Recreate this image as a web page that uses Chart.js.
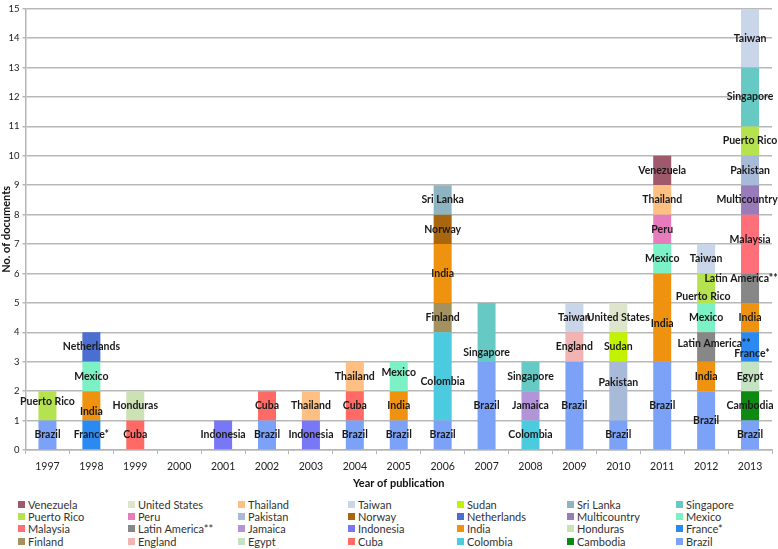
<!DOCTYPE html>
<html><head><meta charset="utf-8">
<script src="https://cdn.jsdelivr.net/npm/chart.js@4.4.0/dist/chart.umd.min.js"></script>
<style>
html,body{margin:0;padding:0;background:#fff;overflow:hidden;}
#wrap{position:absolute;left:0;top:0;width:778px;height:490px;}
#legend{position:absolute;left:0;top:498px;width:778px;height:51px;font-family:Lato, sans-serif;font-size:11px;color:#333;}
.item{position:absolute;display:flex;align-items:center;white-space:nowrap;height:12px;}
.box{width:7px;height:7px;margin-right:3px;flex:none;}
</style></head><body>
<div id="wrap"><canvas id="c" width="778" height="490"></canvas></div>
<div id="legend"></div>
<script>
const years = ['1997','1998','1999','2000','2001','2002','2003','2004','2005','2006','2007','2008','2009','2010','2011','2012','2013'];
const yTicks = [0,1,2,3,4,5,6,7,8,9,10,11,12,13,14,15];
//                 97 98 99 00 01 02 03 04 05 06 07 08 09 10 11 12 13
const brazil       = [1, 0, 0, 0, 0, 1, 0, 1, 1, 1, 3, 0, 3, 1, 3, 2, 1];
const cambodia     = [0, 0, 0, 0, 0, 0, 0, 0, 0, 0, 0, 0, 0, 0, 0, 0, 1];
const colombia     = [0, 0, 0, 0, 0, 0, 0, 0, 0, 3, 0, 1, 0, 0, 0, 0, 0];
const cuba         = [0, 0, 1, 0, 0, 1, 0, 1, 0, 0, 0, 0, 0, 0, 0, 0, 0];
const egypt        = [0, 0, 0, 0, 0, 0, 0, 0, 0, 0, 0, 0, 0, 0, 0, 0, 1];
const england      = [0, 0, 0, 0, 0, 0, 0, 0, 0, 0, 0, 0, 1, 0, 0, 0, 0];
const finland      = [0, 0, 0, 0, 0, 0, 0, 0, 0, 1, 0, 0, 0, 0, 0, 0, 0];
const france       = [0, 1, 0, 0, 0, 0, 0, 0, 0, 0, 0, 0, 0, 0, 0, 0, 1];
const honduras     = [0, 0, 1, 0, 0, 0, 0, 0, 0, 0, 0, 0, 0, 0, 0, 0, 0];
const india        = [0, 1, 0, 0, 0, 0, 0, 0, 1, 2, 0, 0, 0, 0, 3, 1, 1];
const indonesia    = [0, 0, 0, 0, 1, 0, 1, 0, 0, 0, 0, 0, 0, 0, 0, 0, 0];
const jamaica      = [0, 0, 0, 0, 0, 0, 0, 0, 0, 0, 0, 1, 0, 0, 0, 0, 0];
const latinAmerica = [0, 0, 0, 0, 0, 0, 0, 0, 0, 0, 0, 0, 0, 0, 0, 1, 1];
const malaysia     = [0, 0, 0, 0, 0, 0, 0, 0, 0, 0, 0, 0, 0, 0, 0, 0, 2];
const mexico       = [0, 1, 0, 0, 0, 0, 0, 0, 1, 0, 0, 0, 0, 0, 1, 1, 0];
const multicountry = [0, 0, 0, 0, 0, 0, 0, 0, 0, 0, 0, 0, 0, 0, 0, 0, 1];
const netherlands  = [0, 1, 0, 0, 0, 0, 0, 0, 0, 0, 0, 0, 0, 0, 0, 0, 0];
const norway       = [0, 0, 0, 0, 0, 0, 0, 0, 0, 1, 0, 0, 0, 0, 0, 0, 0];
const pakistan     = [0, 0, 0, 0, 0, 0, 0, 0, 0, 0, 0, 0, 0, 2, 0, 0, 1];
const peru         = [0, 0, 0, 0, 0, 0, 0, 0, 0, 0, 0, 0, 0, 0, 1, 0, 0];
const puertoRico   = [1, 0, 0, 0, 0, 0, 0, 0, 0, 0, 0, 0, 0, 0, 0, 1, 1];
const singapore    = [0, 0, 0, 0, 0, 0, 0, 0, 0, 0, 2, 1, 0, 0, 0, 0, 2];
const sriLanka     = [0, 0, 0, 0, 0, 0, 0, 0, 0, 1, 0, 0, 0, 0, 0, 0, 0];
const sudan        = [0, 0, 0, 0, 0, 0, 0, 0, 0, 0, 0, 0, 0, 1, 0, 0, 0];
const taiwan       = [0, 0, 0, 0, 0, 0, 0, 0, 0, 0, 0, 0, 1, 0, 0, 1, 2];
const thailand     = [0, 0, 0, 0, 0, 0, 1, 1, 0, 0, 0, 0, 0, 0, 1, 0, 0];
const unitedStates = [0, 0, 0, 0, 0, 0, 0, 0, 0, 0, 0, 0, 0, 1, 0, 0, 0];
const venezuela    = [0, 0, 0, 0, 0, 0, 0, 0, 0, 0, 0, 0, 0, 0, 1, 0, 0];

// stacking order (bottom to top)
const seriesNames = ['Brazil','Cambodia','Colombia','Cuba','Egypt','England','Finland','France*','Honduras','India','Indonesia','Jamaica','Latin America**','Malaysia','Mexico','Multicountry','Netherlands','Norway','Pakistan','Peru','Puerto Rico','Singapore','Sri Lanka','Sudan','Taiwan','Thailand','United States','Venezuela'];
const seriesValues = [brazil,cambodia,colombia,cuba,egypt,england,finland,france,honduras,india,indonesia,jamaica,latinAmerica,malaysia,mexico,multicountry,netherlands,norway,pakistan,peru,puertoRico,singapore,sriLanka,sudan,taiwan,thailand,unitedStates,venezuela];
const seriesColors = ['#7ba2f7','#0e8a12','#4ccbe0','#ff6a66','#c4e3c2','#f2b3b3','#a3925f','#2b8af2','#cde2b4','#ef920f','#7878f6','#b394d9','#878787','#ff6f79','#7cf1c5','#9a7bb9','#4a6fd1','#a8660f','#a7bbd9','#e77bbc','#b5e24f','#66c9c3','#8fb4c1','#c3f200','#c9d5e8','#fdbf82','#dde6cc','#a0596b'];

const FONT = 'Lato, "Open Sans", sans-serif';

// label placement nudges (style only): [dx in px, dy as fraction of segment unit height]
const labelNudge = {
  '1997|Puerto Rico': [0, 0.14],
  '1998|India': [0, -0.18],
  '2005|Mexico': [0, 0.12],
  '2006|Colombia': [0, -0.17],
  '2007|Singapore': [0, -0.68],
  '2010|Pakistan': [0, 0.29],
  '2011|India': [0, -0.2],
  '2012|Latin America**': [8, 0.12],
  '2012|Puerto Rico': [-3, -0.27],
  '2013|Latin America**': [-9, 0.34],
  '2013|France*': [2, -0.22],
  '2013|Malaysia': [0, 0.14],
  '2013|Multicountry': [-3, 0]
};

const segLabels = {
  id: 'segLabels',
  afterDatasetsDraw(chart) {
    const ctx = chart.ctx;
    const ys = chart.scales.y;
    const unit = ys.getPixelForValue(0) - ys.getPixelForValue(1);
    ctx.save();
    ctx.font = 'bold 10.5px ' + FONT;
    ctx.fillStyle = '#1a1a1a';
    ctx.textAlign = 'center';
    ctx.textBaseline = 'middle';
    chart.data.datasets.forEach((ds, di) => {
      const meta = chart.getDatasetMeta(di);
      meta.data.forEach((el, i) => {
        if (!ds.data[i]) return;
        const n = labelNudge[chart.data.labels[i] + '|' + ds.label] || [0, 0];
        const y = (el.y + el.base) / 2 - n[1] * unit;
        ctx.fillText(ds.label, el.x + n[0], y);
      });
    });
    ctx.restore();
  }
};

new Chart(document.getElementById('c'), {
  type: 'bar',
  data: {
    labels: years,
    datasets: seriesNames.map((n, i) => ({
      label: n,
      data: seriesValues[i],
      backgroundColor: seriesColors[i],
      borderWidth: 0,
      barPercentage: 0.41,
      categoryPercentage: 1
    }))
  },
  options: {
    responsive: false,
    animation: false,
    devicePixelRatio: 1,
    layout: { padding: { top: 3, right: 6, left: 0, bottom: 0 } },
    plugins: { legend: { display: false }, tooltip: { enabled: false } },
    scales: {
      x: {
        stacked: true,
        offset: true,
        grid: { display: true, drawOnChartArea: false, drawTicks: true, tickLength: 4, color: '#b5b5b5', offset: true },
        border: { color: '#b5b5b5', width: 1.5 },
        ticks: { font: { family: FONT, size: 10.5 }, color: '#222', padding: 6 },
        title: { display: true, text: 'Year of publication', font: { family: FONT, size: 11, weight: 'bold' }, color: '#111', padding: { top: 2, bottom: 0 } },
        afterFit(s) { s.height = 40; }
      },
      y: {
        stacked: true,
        min: 0, max: 15,
        afterBuildTicks(s) { s.ticks = yTicks.map(v => ({ value: v })); },
        grid: { color: '#b8b8b8', lineWidth: 1.5, tickLength: 3 },
        border: { color: '#b5b5b5', width: 1.5 },
        ticks: { font: { family: FONT, size: 9.5 }, color: '#222', padding: 3 },
        title: { display: true, text: 'No. of documents', font: { family: FONT, size: 11, weight: 'bold' }, color: '#111', padding: { top: 0, bottom: 0 } },
        afterFit(s) { s.width = 25.5; }
      }
    }
  },
  plugins: [segLabels]
});

// HTML legend: 7 columns, reverse order (as in reference)
const legendEl = document.getElementById('legend');
const colX = [18, 128, 238, 348, 457, 567, 676];
const order = seriesNames.map((n, i) => i).reverse();
order.forEach((si, k) => {
  const r = Math.floor(k / 7), c = k % 7;
  const d = document.createElement('div');
  d.className = 'item';
  d.style.left = colX[c] + 'px';
  d.style.top = (r * 12.4) + 'px';
  const b = document.createElement('span');
  b.className = 'box';
  b.style.background = seriesColors[si];
  const t = document.createElement('span');
  t.textContent = seriesNames[si];
  d.appendChild(b); d.appendChild(t);
  legendEl.appendChild(d);
});
</script>
</body></html>
